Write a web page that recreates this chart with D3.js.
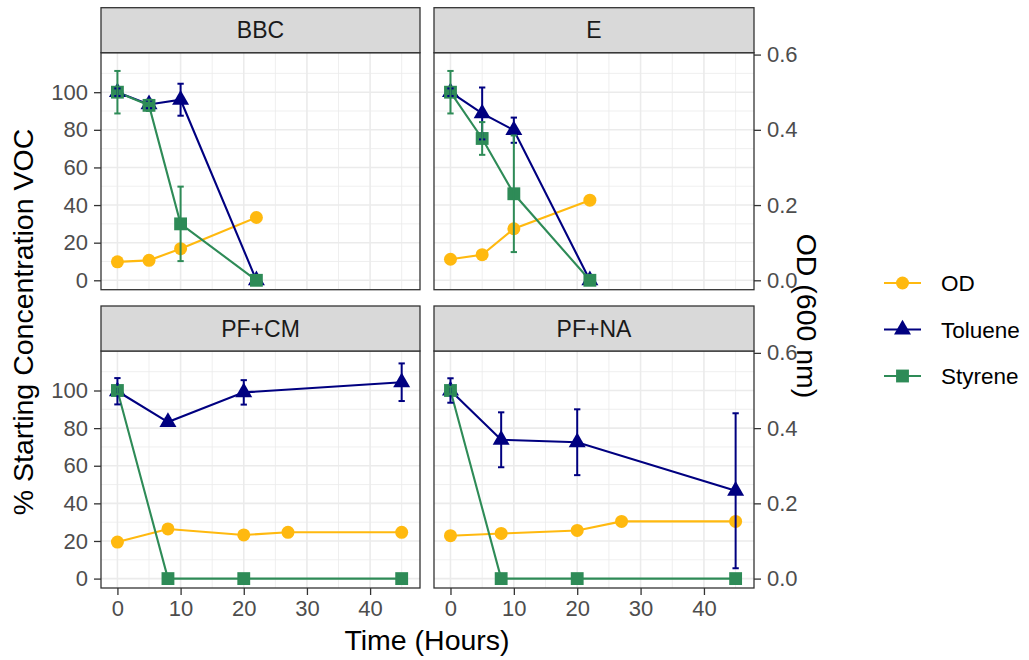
<!DOCTYPE html>
<html>
<head>
<meta charset="utf-8">
<script src="https://cdn.jsdelivr.net/npm/d3@7"></script>
<style>
  html, body { margin: 0; padding: 0; background: #fff; }
  svg { display: block; font-family: "Liberation Sans", Arial, sans-serif; }
</style>
</head>
<body>
<svg id="chart" width="1029" height="660"></svg>
<script>
// facet names
const panelNames = ["BBC", "E", "PF+CM", "PF+NA"];

// BBC
const bbcTime = [0, 5, 10, 22];
const bbcOD = [0.049, 0.053, 0.084, 0.167];
const bbcToluene = [100, 93.5, 96, 0];
const bbcTolueneErr = [2, 2, 8.5, 0];
const bbcStyrene = [100, 93, 30, 0];
const bbcStyreneErr = [11.3, 3, 19.8, 0];

// E
const eTime = [0, 5, 10, 22];
const eOD = [0.056, 0.068, 0.137, 0.213];
const eToluene = [100, 88.7, 79.8, 0];
const eTolueneErr = [2, 13.8, 6.7, 0];
const eStyrene = [100, 75.4, 46, 0];
const eStyreneErr = [11.3, 8.7, 31, 0];

// PF+CM
const cmOdTime = [0, 8, 20, 27, 45];
const cmOD = [0.097, 0.132, 0.116, 0.123, 0.123];
const cmTime = [0, 8, 20, 45];
const cmToluene = [99.6, 83.2, 99, 104.4];
const cmTolueneErr = [7, 2, 6.5, 10];
const cmStyrene = [100, 0, 0, 0];
const cmStyreneErr = [2, 0, 0, 0];

// PF+NA
const naOdTime = [0, 8, 20, 27, 45];
const naOD = [0.114, 0.12, 0.128, 0.152, 0.152];
const naTime = [0, 8, 20, 45];
const naToluene = [100, 73.8, 72.5, 46.7];
const naTolueneErr = [6.5, 14.6, 17.5, 41.2];
const naStyrene = [100, 0, 0, 0];
const naStyreneErr = [2, 0, 0, 0];

const xTicks = [0, 10, 20, 30, 40];
const yTicks = [0, 20, 40, 60, 80, 100];
const odTicks = [0, 0.2, 0.4, 0.6];
const odScale = 200; // sec_axis: OD * 200 = VOC %

const seriesNames = ["OD", "Toluene", "Styrene"];
const seriesColors = { OD: "#FFB90F", Toluene: "#000080", Styrene: "#2E8B57" };

function pts(t, v, e) { return t.map((x, i) => ({ t: x, v: v[i], e: e ? e[i] : 0 })); }

const panels = [
  { name: panelNames[0], OD: pts(bbcTime, bbcOD), Toluene: pts(bbcTime, bbcToluene, bbcTolueneErr), Styrene: pts(bbcTime, bbcStyrene, bbcStyreneErr) },
  { name: panelNames[1], OD: pts(eTime, eOD), Toluene: pts(eTime, eToluene, eTolueneErr), Styrene: pts(eTime, eStyrene, eStyreneErr) },
  { name: panelNames[2], OD: pts(cmOdTime, cmOD), Toluene: pts(cmTime, cmToluene, cmTolueneErr), Styrene: pts(cmTime, cmStyrene, cmStyreneErr) },
  { name: panelNames[3], OD: pts(naOdTime, naOD), Toluene: pts(naTime, naToluene, naTolueneErr), Styrene: pts(naTime, naStyrene, naStyreneErr) }
];

const svg = d3.select("#chart");
const colX = [[101, 420], [434, 754]];
const rowY = [7.7, 306];
const stripH = 45;
const plotH = 237;

const x0 = d3.scaleLinear().domain([-2.6, 47.9]);
const yDomain = [-5, 121];

const triangle = d3.symbol().type(d3.symbolTriangle).size(125);
const square = d3.symbol().type(d3.symbolSquare).size(165);

function drawMarker(sel, name) {
  if (name === "OD") {
    sel.append("circle").attr("r", 6.5).attr("fill", seriesColors.OD);
  } else {
    sel.append("path").attr("d", name === "Toluene" ? triangle() : square()).attr("fill", seriesColors[name]);
  }
}

panels.forEach((p, i) => {
  const col = i % 2, row = Math.floor(i / 2);
  const [left, right] = colX[col];
  const top = rowY[row] + stripH;
  const bottom = top + plotH;
  const x = x0.copy().range([left, right]);
  const y = d3.scaleLinear().domain(yDomain).range([bottom, top]);
  const yOd = d3.scaleLinear().domain(yDomain.map((d) => d / odScale)).range([bottom, top]);
  const g = svg.append("g");

  // grid
  const xMinor = [5, 15, 25, 35, 45];
  const yMinor = [10, 30, 50, 70, 90, 110];
  g.selectAll(".gxm").data(xMinor).join("line")
    .attr("x1", (d) => x(d)).attr("x2", (d) => x(d)).attr("y1", top).attr("y2", bottom)
    .attr("stroke", "#EBEBEB").attr("stroke-width", 0.8);
  g.selectAll(".gym").data(yMinor).join("line")
    .attr("x1", left).attr("x2", right).attr("y1", (d) => y(d)).attr("y2", (d) => y(d))
    .attr("stroke", "#EBEBEB").attr("stroke-width", 0.8);
  g.selectAll(".gx").data(xTicks).join("line")
    .attr("x1", (d) => x(d)).attr("x2", (d) => x(d)).attr("y1", top).attr("y2", bottom)
    .attr("stroke", "#EBEBEB").attr("stroke-width", 1.6);
  g.selectAll(".gy").data(yTicks).join("line")
    .attr("x1", left).attr("x2", right).attr("y1", (d) => y(d)).attr("y2", (d) => y(d))
    .attr("stroke", "#EBEBEB").attr("stroke-width", 1.6);

  const xy = (name) => (d) => [x(d.t), name === "OD" ? yOd(d.v) : y(d.v)];
  const line = (name) => d3.line().x((d) => xy(name)(d)[0]).y((d) => xy(name)(d)[1]);

  seriesNames.forEach((name) => {
    g.append("path").attr("d", line(name)(p[name])).attr("fill", "none")
      .attr("stroke", seriesColors[name]).attr("stroke-width", 2.1);
  });
  seriesNames.forEach((name) => {
    p[name].forEach((d) => {
      const [cx, cy] = xy(name)(d);
      drawMarker(g.append("g").attr("transform", `translate(${cx},${cy})`), name);
    });
  });
  seriesNames.forEach((name) => {
    p[name].filter((d) => d.e > 0).forEach((d) => {
      const eb = g.append("g").attr("stroke", seriesColors[name]).attr("stroke-width", 2).attr("fill", "none");
      const ylo = y(d.v - d.e), yhi = y(d.v + d.e);
      eb.append("line").attr("x1", x(d.t)).attr("x2", x(d.t)).attr("y1", ylo).attr("y2", yhi);
      eb.append("line").attr("x1", x(d.t - 0.5)).attr("x2", x(d.t + 0.5)).attr("y1", ylo).attr("y2", ylo);
      eb.append("line").attr("x1", x(d.t - 0.5)).attr("x2", x(d.t + 0.5)).attr("y1", yhi).attr("y2", yhi);
    });
  });

  // panel border
  g.append("rect").attr("x", left).attr("y", top).attr("width", right - left).attr("height", plotH)
    .attr("fill", "none").attr("stroke", "#333333").attr("stroke-width", 1.3);
  // strip
  g.append("rect").attr("x", left).attr("y", rowY[row]).attr("width", right - left).attr("height", stripH)
    .attr("fill", "#D9D9D9").attr("stroke", "#333333").attr("stroke-width", 1.3);
  g.append("text").attr("x", (left + right) / 2).attr("y", rowY[row] + stripH / 2 + 8)
    .attr("text-anchor", "middle").attr("fill", "#1A1A1A").style("font-size", "23px").text(p.name);

  const styleAxis = (axis) => {
    axis.select(".domain").remove();
    axis.selectAll("line").attr("stroke", "#333333").attr("stroke-width", 1.3);
    axis.selectAll("text").attr("fill", "#4D4D4D").style("font-size", "22px").style("font-family", "Liberation Sans, Arial, sans-serif");
  };
  if (col === 0) {
    g.append("g").attr("transform", `translate(${left},0)`)
      .call(d3.axisLeft(y).tickValues(yTicks).tickSize(7).tickPadding(6))
      .call(styleAxis);
  }
  if (col === 1) {
    g.append("g").attr("transform", `translate(${right},0)`)
      .call(d3.axisRight(yOd).tickValues(odTicks).tickSize(7).tickPadding(6).tickFormat(d3.format(".1f")))
      .call(styleAxis);
  }
  if (row === 1) {
    g.append("g").attr("transform", `translate(0,${bottom})`)
      .call(d3.axisBottom(x).tickValues(xTicks).tickSize(7).tickPadding(5))
      .call(styleAxis);
  }
});

// axis titles
svg.append("text").attr("x", 427).attr("y", 650).attr("text-anchor", "middle")
  .attr("fill", "#000").style("font-size", "28.5px").text("Time (Hours)");
svg.append("text").attr("transform", "translate(33,322) rotate(-90)").attr("text-anchor", "middle")
  .attr("fill", "#000").style("font-size", "28.5px").text("% Starting Concentration VOC");
svg.append("text").attr("transform", "translate(797,316) rotate(90)").attr("text-anchor", "middle")
  .attr("fill", "#000").style("font-size", "28.5px").text("OD (600 nm)");

// legend
const legend = svg.append("g");
seriesNames.forEach((name, i) => {
  const ly = 283 + i * 46.5;
  legend.append("line").attr("x1", 884).attr("x2", 921).attr("y1", ly).attr("y2", ly)
    .attr("stroke", seriesColors[name]).attr("stroke-width", 2.1);
  drawMarker(legend.append("g").attr("transform", `translate(902.5,${ly})`), name);
  legend.append("text").attr("x", 941).attr("y", ly + 8).attr("fill", "#000")
    .style("font-size", "22.5px").text(name);
});
</script>
</body>
</html>
